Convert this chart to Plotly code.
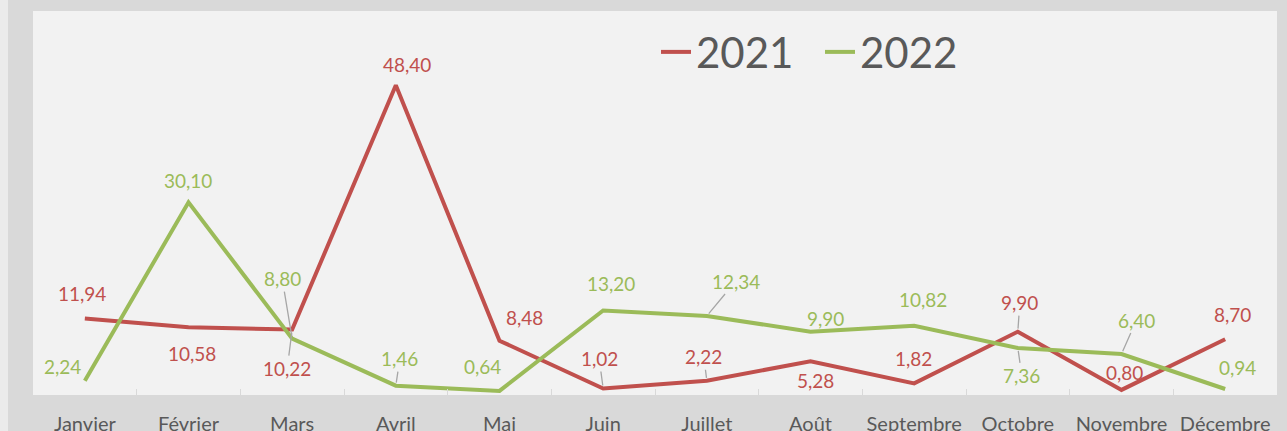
import plotly.graph_objects as go

months = ["Janvier", "Février", "Mars", "Avril", "Mai", "Juin", "Juillet",
          "Août", "Septembre", "Octobre", "Novembre", "Décembre"]
v2021 = [11.94, 10.58, 10.22, 48.40, 8.48, 1.02, 2.22, 5.28, 1.82, 9.90, 0.80, 8.70]
v2022 = [2.24, 30.10, 8.80, 1.46, 0.64, 13.20, 12.34, 9.90, 10.82, 7.36, 6.40, 0.94]

# label offsets (pixels) and whether a leader line is drawn
off2021 = [(-3, -25), (3, 26), (-5, 39), (11, -21), (25, -23), (-4, -30),
           (-3, -24), (5, 19), (-1, -25), (2, -29), (3, -17), (7, -25)]
lead2021 = [False, False, True, False, False, True, True, False, False, True, False, False]
off2022 = [(-22, -14), (-1, -22), (-10, -60), (4, -27), (-17, -24), (8, -27),
           (29, -35), (15, -13), (9, -26), (4, 28), (15, -34), (12, -21)]
lead2022 = [False, False, True, True, False, False, True, False, False, True, True, False]

RED = "#c0504d"
GREEN = "#9bbb59"
FONT = "Lato, 'Open Sans', sans-serif"

def fmt(v):
    return f"{v:.2f}".replace(".", ",")

fig = go.Figure()
fig.add_trace(go.Scatter(x=months, y=v2021, mode="lines", name="2021",
                         line=dict(color=RED, width=4)))
fig.add_trace(go.Scatter(x=months, y=v2022, mode="lines", name="2022",
                         line=dict(color=GREEN, width=4)))

annotations = []
for vals, offs, leads, col in [(v2021, off2021, lead2021, RED), (v2022, off2022, lead2022, GREEN)]:
    for m, v, (dx, dy), ld in zip(months, vals, offs, leads):
        annotations.append(dict(
            x=m, y=v, xref="x", yref="y", text=fmt(v), showarrow=True,
            ax=dx, ay=dy, arrowhead=0, arrowwidth=1.3, standoff=3,
            arrowcolor="#a6a6a6" if ld else "rgba(0,0,0,0)",
            font=dict(family=FONT, size=19, color=col)))

W, H = 1287, 431
ml, mr, mt, mb = 33, 10, 11, 36
pw = W - ml - mr
ph = H - mt - mb

shapes = [
    # outer chart area (gray) leaving a light strip at the far left
    dict(type="rect", xref="paper", yref="paper", layer="below",
         x0=(8 - ml) / pw, x1=1 + (mr + 5) / pw, y0=-(mb + 5) / ph, y1=1 + (mt + 5) / ph,
         fillcolor="#d9d9d9", line=dict(width=0)),
    # plot area
    dict(type="rect", xref="paper", yref="paper", layer="below",
         x0=0, x1=1, y0=0, y1=1, fillcolor="#f2f2f2", line=dict(width=0)),
]

fig.update_layout(
    width=W, height=H,
    margin=dict(l=ml, r=mr, t=mt, b=mb, pad=0, autoexpand=False),
    paper_bgcolor="#ebebeb",
    plot_bgcolor="rgba(0,0,0,0)",
    shapes=shapes,
    annotations=annotations,
    showlegend=True,
    legend=dict(orientation="h", x=0.5008, y=0.893, xanchor="left", yanchor="middle",
                font=dict(family=FONT, size=42, color="#595959"),
                bgcolor="rgba(0,0,0,0)", itemwidth=30, tracegroupgap=0,
                entrywidth=119),
    xaxis=dict(type="category", range=[-0.5, 11.5], showgrid=False,
               showline=True, linecolor="#d9d9d9", linewidth=1.5,
               ticks="inside", ticklen=6, tickcolor="#d9d9d9", tickwidth=1,
               tickson="boundaries", ticklabelstandoff=10, tickangle=0,
               tickfont=dict(family=FONT, size=20, color="#595959")),
    yaxis=dict(range=[0, 60], visible=False, showgrid=False, zeroline=False),
)

fig.write_html("out.html", config={"displayModeBar": False},
               post_script="document.body.style.margin='0';document.body.style.overflow='hidden';")
